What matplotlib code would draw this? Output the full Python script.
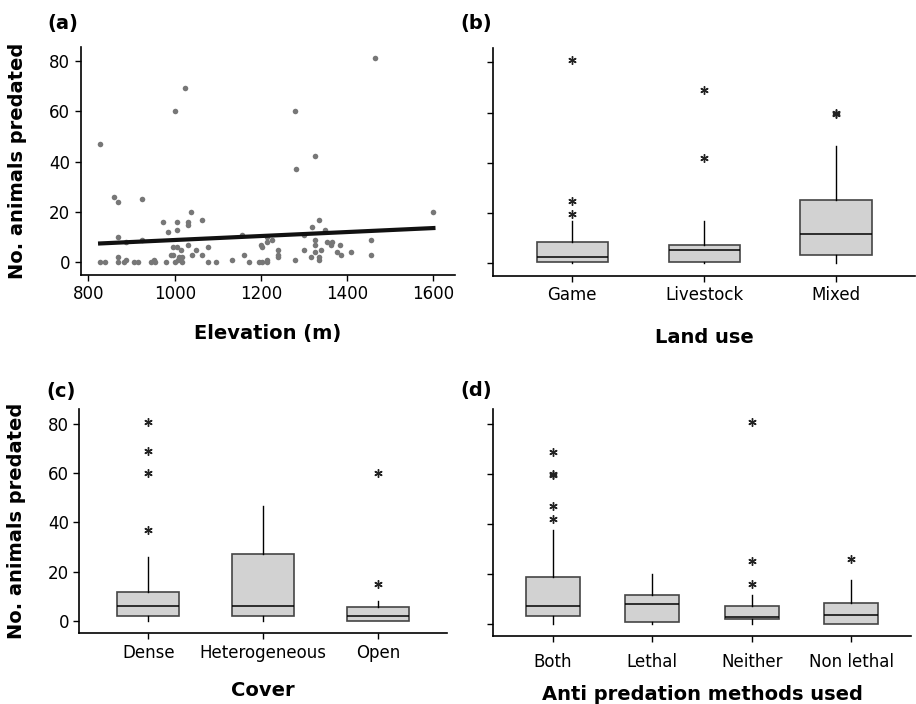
import matplotlib
matplotlib.use("Agg")
import matplotlib.pyplot as plt

plt.rcParams['font.family'] = ['DejaVu Sans']

# ---- (a) elevation scatter ----
elevation = [827, 860, 869, 924, 1023, 1000, 1278, 1281, 1325, 1464, 1600,
             974, 985, 1006, 1006, 1037, 1031, 1032, 1064,
             869, 924, 888, 997, 1006, 1030, 1014, 1049, 1077, 1039, 1064,
             991, 997, 1011, 869, 888, 952, 1008, 1016,
             1132, 1160, 1156, 1200, 1202, 1214, 1215, 1226, 1239, 1239, 1239,
             1214, 1278,
             1300, 1300, 1319, 1334, 1348, 1325, 1325, 1340, 1325, 1315, 1334,
             1334, 1354, 1364, 1362, 1384, 1376, 1386, 1410, 1456, 1456,
             827, 839, 869, 883, 906, 914, 946, 954, 979, 1000, 1016, 1077,
             1095, 1172, 1195, 1202, 1214]
predated = [47, 26, 24, 25, 69, 60, 60, 37, 42, 81, 20,
            16, 12, 16, 13, 20, 16, 15, 17,
            10, 9, 8, 6, 6, 7, 5, 5, 6, 3, 3,
            3, 3, 2, 2, 1, 1, 1, 2,
            1, 3, 11, 7, 6, 8, 10, 9, 5, 3, 2,
            1, 1,
            11, 5, 14, 17, 13, 9, 7, 5, 4, 2, 2,
            1, 8, 8, 7, 7, 4, 3, 4, 9, 3,
            0, 0, 0, 0, 0, 0, 0, 0, 0, 0, 0, 0,
            0, 0, 0, 0, 0]
fit_intercept = 0.97
fit_slope = 0.0079

# ---- (b) land use ----
land_use = ['Game', 'Livestock', 'Mixed']
land_q1 = [0.5, 0.4, 3.4]
land_med = [2.6, 5.2, 11.8]
land_q3 = [8.6, 7.3, 25.1]
land_lo = [0, 0, 0]
land_hi = [17, 17, 46.8]
land_out = [[80.8, 25, 19.7], [69, 41.8], [60, 59.6]]

# ---- (c) cover ----
cover = ['Dense', 'Heterogeneous', 'Open']
cover_q1 = [1.9, 1.9, 0]
cover_med = [6.2, 6.2, 2]
cover_q3 = [11.6, 27, 5.7]
cover_lo = [0, 0, 0]
cover_hi = [26, 46.8, 8.2]
cover_out = [[80.7, 69, 60, 36.7], [], [60, 15]]

# ---- (d) anti predation methods ----
methods = ['Both', 'Lethal', 'Neither', 'Non lethal']
meth_q1 = [2.9, 0.7, 2, 0]
meth_med = [7.2, 8, 2.8, 3.6]
meth_q3 = [18.6, 11.6, 7.2, 8.1]
meth_lo = [0, 0, 0, 0]
meth_hi = [37.3, 20, 11.3, 17.3]
meth_out = [[68.7, 60, 59.6, 46.9, 41.8], [], [80.7, 24.9, 16], [25.8]]

LABEL_FS = 14
TICK_FS = 12


def make_stats(q1, med, q3, lo, hi, out):
    return [dict(q1=a, med=b, q3=c, whislo=d, whishi=e, fliers=f)
            for a, b, c, d, e, f in zip(q1, med, q3, lo, hi, out)]


def style_axes(ax):
    for s in ['top', 'right']:
        ax.spines[s].set_visible(False)
    ax.spines['left'].set_linewidth(1.2)
    ax.spines['bottom'].set_linewidth(1.2)
    ax.tick_params(direction='out', length=4, width=1, labelsize=TICK_FS)
    ax.set_ylim(-5, 85.8)
    ax.set_yticks([0, 20, 40, 60, 80])


def draw_box(ax, stats, labels):
    n = len(stats)
    ax.bxp(stats, positions=range(n), widths=0.54, patch_artist=True,
           showcaps=False,
           boxprops=dict(facecolor='#d2d2d2', edgecolor='#454545', linewidth=1.2),
           medianprops=dict(color='black', linewidth=1.1),
           whiskerprops=dict(color='black', linewidth=1),
           flierprops=dict(marker=(6, 2, 0), markersize=6, markeredgecolor='#222222',
                           markeredgewidth=1, linestyle='none'))
    ax.set_xlim(-0.6, n - 0.4)
    ax.set_xticks(range(n))
    ax.set_xticklabels(labels)


fig = plt.figure(figsize=(9.16, 7.04), dpi=100)
ax_a = fig.add_axes([0.0881, 0.6094, 0.4086, 0.3238])
ax_b = fig.add_axes([0.5385, 0.6080, 0.4604, 0.3242])
ax_c = fig.add_axes([0.0866, 0.1004, 0.4011, 0.3182])
ax_d = fig.add_axes([0.5385, 0.0966, 0.4557, 0.3220])

# (a)
ax_a.scatter(elevation, predated, s=16, color='#777777', zorder=2, linewidths=0)
x0, x1 = min(elevation), max(elevation)
ax_a.plot([x0, x1], [fit_intercept + fit_slope * x0, fit_intercept + fit_slope * x1],
          color='#111111', linewidth=3, zorder=3)
style_axes(ax_a)
ax_a.set_ylim(-5, 85.4)
ax_a.set_xlim(782, 1650)
ax_a.set_xticks([800, 1000, 1200, 1400, 1600])
ax_a.set_xlabel('Elevation (m)', fontsize=LABEL_FS, fontweight='bold', labelpad=15)
ax_a.set_ylabel('No. animals predated', fontsize=LABEL_FS, fontweight='bold', labelpad=16)

# (b)
draw_box(ax_b, make_stats(land_q1, land_med, land_q3, land_lo, land_hi, land_out), land_use)
style_axes(ax_b)
ax_b.set_yticklabels([])
ax_b.set_xlabel('Land use', fontsize=LABEL_FS, fontweight='bold', labelpad=17)

# (c)
draw_box(ax_c, make_stats(cover_q1, cover_med, cover_q3, cover_lo, cover_hi, cover_out), cover)
style_axes(ax_c)
ax_c.set_xlabel('Cover', fontsize=LABEL_FS, fontweight='bold', labelpad=14)
ax_c.set_ylabel('No. animals predated', fontsize=LABEL_FS, fontweight='bold', labelpad=16)

# (d)
draw_box(ax_d, make_stats(meth_q1, meth_med, meth_q3, meth_lo, meth_hi, meth_out), methods)
style_axes(ax_d)
ax_d.set_yticklabels([])
ax_d.tick_params(axis='x', pad=8)
ax_d.set_xlabel('Anti predation methods used', fontsize=LABEL_FS, fontweight='bold', labelpad=10)

# panel letters
for ax, lab, dy in [(ax_a, '(a)', 0.033), (ax_b, '(b)', 0.035),
                    (ax_c, '(c)', 0.026), (ax_d, '(d)', 0.027)]:
    bb = ax.get_position()
    fig.text(bb.x0 - 0.036, bb.y1 + dy, lab, fontsize=14, fontweight='bold',
             ha='left', va='center')

fig.savefig('out.png', dpi=100)
